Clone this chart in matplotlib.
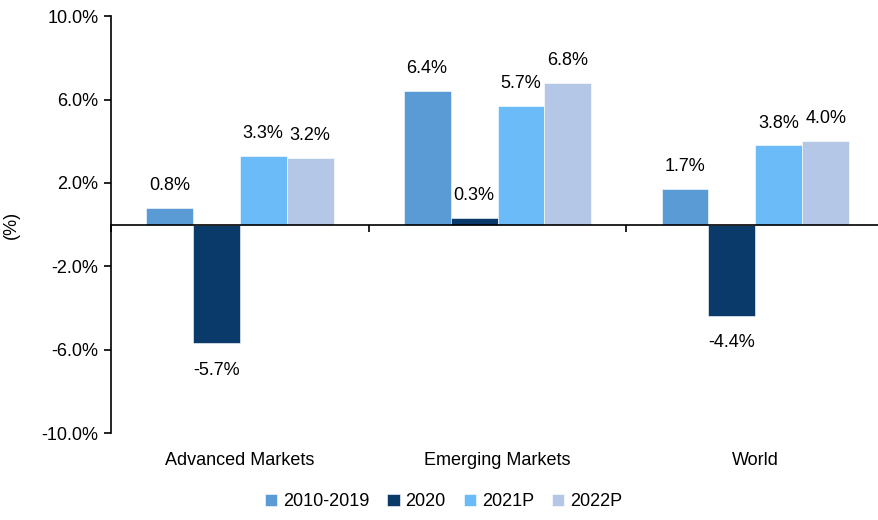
import numpy as np
import matplotlib.pyplot as plt
import matplotlib.transforms as mtransforms
from matplotlib import font_manager

names = {f.name for f in font_manager.fontManager.ttflist}
fam = 'Liberation Sans Narrow' if 'Liberation Sans Narrow' in names else 'Liberation Sans'
plt.rcParams['font.family'] = [fam, 'DejaVu Sans']

groups = ['Advanced Markets', 'Emerging Markets', 'World']
series = ['2010-2019', '2020', '2021P', '2022P']
v_2010_2019 = [0.8, 6.4, 1.7]
v_2020 = [-5.7, 0.3, -4.4]
v_2021p = [3.3, 5.7, 3.8]
v_2022p = [3.2, 6.8, 4.0]
colors = ['#5b9bd5', '#0a3a6a', '#6cbbf9', '#b4c7e7']
yticks = [-10, -6, -2, 2, 6, 10]

fig = plt.figure(figsize=(8.79, 5.2), dpi=100)
ax = fig.add_axes([0.126, 0.167, 0.880, 0.802])

x = np.arange(len(groups))
w = 0.182
for i, (vals, c, s) in enumerate(zip([v_2010_2019, v_2020, v_2021p, v_2022p], colors, series)):
    pos = x + (i - 1.5) * w
    ax.bar(pos, vals, w, color=c, label=s, edgecolor='white', linewidth=0.4)
    for px, v in zip(pos, vals):
        ax.annotate(f'{v:.1f}%', (px, v), xytext=(0, 10 if v >= 0 else -13),
                    textcoords='offset points', ha='center',
                    va='bottom' if v >= 0 else 'top', fontsize=13)

ax.set_ylim(-10, 10)
ax.set_xlim(-0.5, 2.5)
ax.set_yticks(yticks)
ax.set_yticklabels([f'{t:.1f}%' for t in yticks], fontsize=13)
ax.tick_params(axis='y', length=5, width=1.2, direction='out', pad=4)
ax.set_ylabel('(%)', fontsize=13)
ax.yaxis.set_label_coords(-0.117, 0.5)

for sp in ['top', 'right']:
    ax.spines[sp].set_visible(False)
ax.spines['bottom'].set_position(('data', 0))
ax.spines['left'].set_linewidth(1.2)
ax.spines['bottom'].set_linewidth(1.2)
ax.set_xticks([-0.5, 0.5, 1.5, 2.5])
ax.set_xticklabels([])
ax.tick_params(axis='x', length=5, width=1.2, direction='out')

trans = mtransforms.blended_transform_factory(ax.transData, ax.transAxes)
for xi, g in zip(x, groups):
    ax.text(xi, -0.065, g, transform=trans, ha='center', va='center', fontsize=13)

ax.legend(loc='center', bbox_to_anchor=(0.43, -0.165), ncol=4, frameon=False,
          fontsize=13, handlelength=0.7, handleheight=0.7, handletextpad=0.3,
          columnspacing=1.0)

fig.savefig('out.png', dpi=100)
